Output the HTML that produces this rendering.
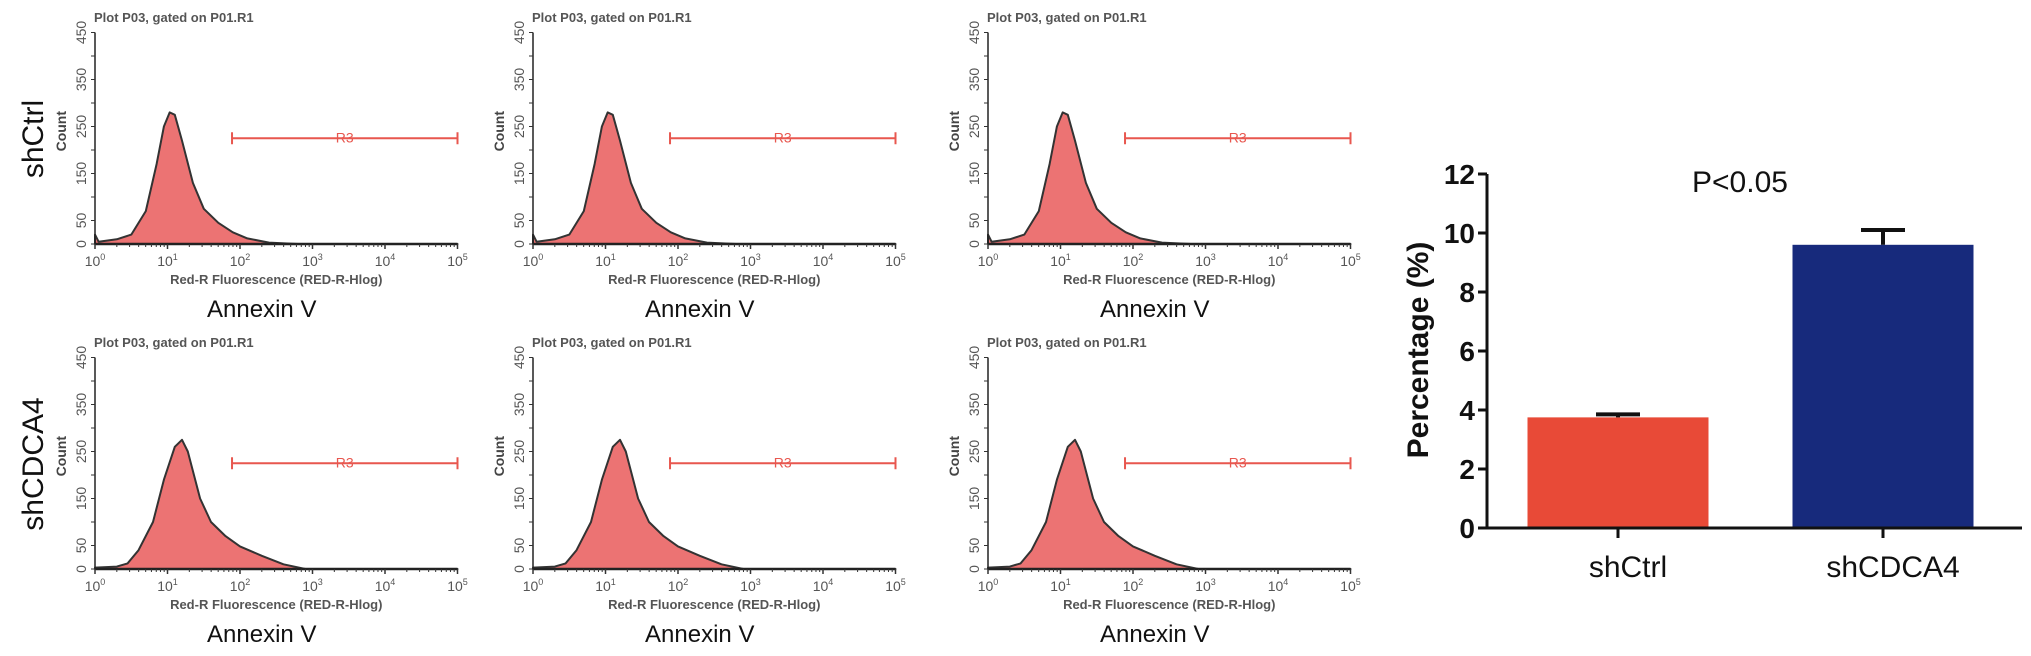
<!DOCTYPE html>
<html><head><meta charset="utf-8"><style>
html,body{margin:0;padding:0;background:#fff;}
svg{display:block;font-family:"Liberation Sans",sans-serif;}
</style></head><body>
<svg id="fig" width="2031" height="656" viewBox="0 0 2031 656"></svg>
<script>
// ---- histogram data (log10 fluorescence vs count) ----
const histLog = [0,0.05,0.3,0.5,0.7,0.85,0.95,1.03,1.1,1.2,1.35,1.5,1.7,1.9,2.1,2.4,2.8,5];
const histRow1 = [20,5,10,20,70,170,250,280,275,220,130,75,45,25,12,3,0,0];
const histLog2 = [0,0.3,0.45,0.6,0.8,0.95,1.1,1.2,1.28,1.45,1.6,1.8,2.0,2.3,2.6,2.9,5];
const histRow2 = [3,5,12,40,100,190,260,275,250,150,100,70,48,28,10,0,0];
const yTickVals = [0,50,150,250,350,450];
const xTickExp = [0,1,2,3,4,5];
const gateRange = [1.89,5];
const gateCount = 225;
// ---- bar chart data ----
const barCats = ["shCtrl","shCDCA4"];
const barVals = [3.75,9.6];
const barErr = [0.1,0.5];
const barColors = ["#e84a37","#172a7c"];
const barTicks = [0,2,4,6,8,10,12];

const NS="http://www.w3.org/2000/svg";
const svg=document.getElementById('fig');
function mk(tag,attrs,parent,text){const e=document.createElementNS(NS,tag);for(const k in attrs)e.setAttribute(k,attrs[k]);if(text!==undefined)e.textContent=text;(parent||svg).appendChild(e);return e;}

const panelX=[95,533,988], rowBase=[244,569], pxDec=72.5, pxCount=0.47;
const rowNames=["shCtrl","shCDCA4"];
for(let r=0;r<2;r++){
  const lab=mk('text',{x:0,y:0,'font-size':30,'text-anchor':'middle',fill:'#111',transform:`translate(43,${rowBase[r]-105}) rotate(-90)`},svg,rowNames[r]);
  
  
  for(let p=0;p<3;p++){
    const x0=panelX[p], y0=rowBase[r];
    const g=mk('g',{});
    
    
    const xs=l=>x0+l*pxDec, ys=c=>y0-c*pxCount;
    const t=mk('text',{x:x0-1,y:y0-222,'font-size':13,'font-weight':'bold',fill:'#555'},g,'Plot P03, gated on P01.R1');
    
    
    const L=r===0?histLog:histLog2, C=r===0?histRow1:histRow2;
    let d=`M${xs(0)},${ys(0)}`;
    for(let i=0;i<L.length;i++)d+=` L${xs(L[i]).toFixed(1)},${ys(C[i]).toFixed(1)}`;
    d+=` L${xs(5)},${ys(0)} Z`;
    const h=mk('path',{d:d,fill:'#ec7373',stroke:'#333','stroke-width':2,'stroke-linejoin':'round'},g);
    
    
    mk('line',{x1:x0,y1:y0,x2:xs(5),y2:y0,stroke:'#222','stroke-width':2.5},g);
    mk('line',{x1:x0,y1:y0,x2:x0,y2:ys(450),stroke:'#222','stroke-width':1.5},g);
    for(let c=0;c<=450;c+=50){mk('line',{x1:x0-4,y1:ys(c),x2:x0,y2:ys(c),stroke:'#333','stroke-width':1},g);}
    yTickVals.forEach(v=>{const tt=mk('text',{x:0,y:0,'font-size':14,fill:'#555','text-anchor':'middle',transform:`translate(${x0-9},${ys(v)}) rotate(-90)`},g,String(v));
      
      });
    const cl=mk('text',{x:0,y:0,'font-size':14,'font-weight':'bold',fill:'#444','text-anchor':'middle',transform:`translate(${x0-29},${ys(240)}) rotate(-90)`},g,'Count');
    
    
    xTickExp.forEach(e=>{
      const xe=xs(e);
      mk('line',{x1:xe,y1:y0,x2:xe,y2:y0+5,stroke:'#333','stroke-width':1.5},g);
      if(e<5)for(let m=2;m<10;m++){const xm=xs(e+Math.log10(m));mk('line',{x1:xm,y1:y0,x2:xm,y2:y0+3,stroke:'#333','stroke-width':1},g);}
      const tl=mk('text',{x:xe,y:y0+22,'font-size':14,fill:'#555','text-anchor':'middle'},g);
      
      
      mk('tspan',{},tl,'10');mk('tspan',{dy:-6,'font-size':9},tl,String(e));
    });
    const xl=mk('text',{x:xs(2.5),y:y0+40,'font-size':13,'font-weight':'bold',fill:'#555','text-anchor':'middle'},g,'Red-R Fluorescence (RED-R-Hlog)');
    
    
    const an=mk('text',{x:xs(2.3),y:y0+73,'font-size':24,fill:'#111','text-anchor':'middle'},g,'Annexin V');
    
    
    const gy=ys(gateCount), ga=xs(gateRange[0]), gb=xs(gateRange[1]);
    const gl=mk('g',{stroke:'#e8574f','stroke-width':2},g);
    
    
    mk('line',{x1:ga,y1:gy,x2:gb,y2:gy},gl);mk('line',{x1:ga,y1:gy-6,x2:ga,y2:gy+6},gl);mk('line',{x1:gb,y1:gy-6,x2:gb,y2:gy+6},gl);
    mk('text',{x:(ga+gb)/2,y:gy+4,'font-size':14,fill:'#e8574f','text-anchor':'middle',stroke:'none'},g,'R3');
  }
}
// ---- bar chart ----
const bx0=1487, by0=528, pxUnit=29.5, bw=181;
const bCenters=[1618,1883];
const ys2=v=>by0-v*pxUnit;
const bg=mk('g',{});


barCats.forEach((c,i)=>{
  const r=mk('rect',{x:bCenters[i]-bw/2,y:ys2(barVals[i]),width:bw,height:barVals[i]*pxUnit,fill:barColors[i]},bg);
  
  
  const top=ys2(barVals[i]+barErr[i]);
  const e=mk('g',{stroke:'#111','stroke-width':4},bg);
  
  
  mk('line',{x1:bCenters[i],y1:ys2(barVals[i]),x2:bCenters[i],y2:top},e);
  mk('line',{x1:bCenters[i]-22,y1:top,x2:bCenters[i]+22,y2:top},e);
  mk('line',{x1:bCenters[i],y1:by0,x2:bCenters[i],y2:by0+10,stroke:'#111','stroke-width':3},bg);
  const l=mk('text',{x:bCenters[i]+10,y:577,'font-size':30,fill:'#111','text-anchor':'middle'},bg,c);
  
  
});
mk('line',{x1:bx0,y1:ys2(12),x2:bx0,y2:by0,stroke:'#111','stroke-width':3},bg);
mk('line',{x1:bx0-1,y1:by0,x2:2022,y2:by0,stroke:'#111','stroke-width':3},bg);
barTicks.forEach(v=>{
  mk('line',{x1:bx0-9,y1:ys2(v),x2:bx0,y2:ys2(v),stroke:'#111','stroke-width':3},bg);
  const t=mk('text',{x:bx0-12,y:ys2(v)+10,'font-size':28,'font-weight':'bold',fill:'#111','text-anchor':'end'},bg,String(v));
  
  
});
const yt=mk('text',{x:0,y:0,'font-size':30,'font-weight':'bold',fill:'#111','text-anchor':'middle',transform:'translate(1428,350) rotate(-90)'},bg,'Percentage (%)');


const pv=mk('text',{x:1740,y:192,'font-size':30,fill:'#111','text-anchor':'middle'},bg,'P<0.05');


</script>
</body></html>
